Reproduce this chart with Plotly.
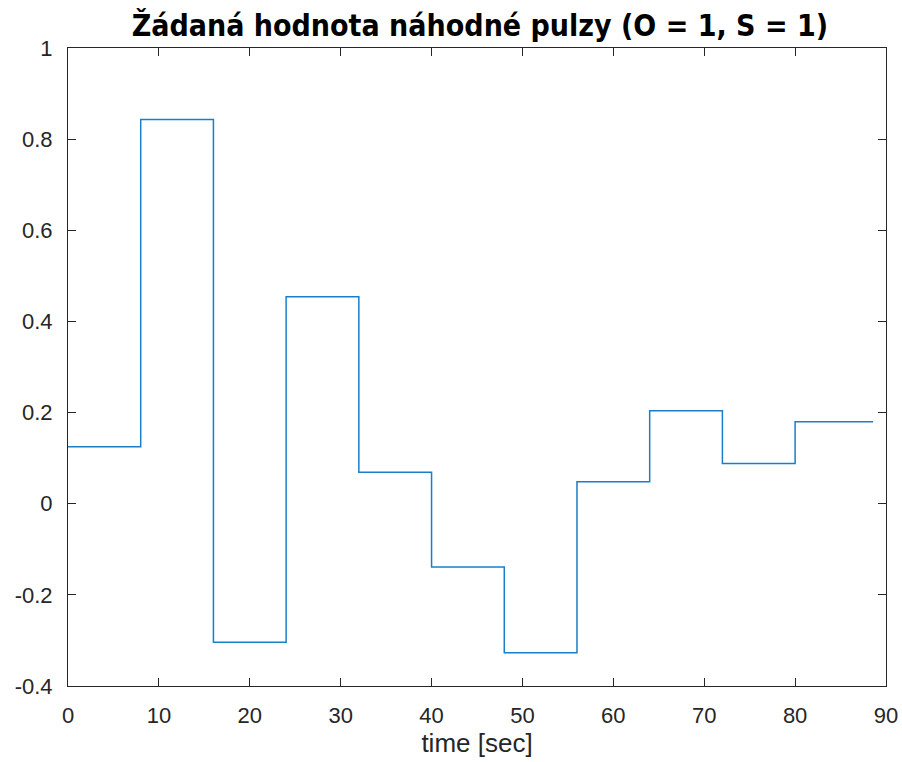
import plotly.graph_objects as go

# step start times and values
times = [0, 8, 16, 24, 32, 40, 48, 56, 64, 72, 80, 88.5]
values = [0.125, 0.843, -0.304, 0.454, 0.069, -0.139, -0.327, 0.048, 0.204, 0.088, 0.180, 0.178]

x_ticks = [0, 10, 20, 30, 40, 50, 60, 70, 80, 90]
y_ticks = [-0.4, -0.2, 0, 0.2, 0.4, 0.6, 0.8, 1]
y_tick_labels = ["-0.4", "-0.2", "0", "0.2", "0.4", "0.6", "0.8", "1"]

fig = go.Figure()
fig.add_trace(go.Scatter(
    x=times, y=values, mode="lines", line=dict(shape="hv", color="#1a7fc9", width=1.5),
    showlegend=False, hoverinfo="x+y"))

axis_common = dict(
    showgrid=False, zeroline=False, showline=True, linecolor="#262626", linewidth=1,
    mirror="ticks", ticks="inside", ticklen=8, tickcolor="#262626", tickwidth=1,
    automargin=False,
    tickfont=dict(family="Liberation Sans, Arial, sans-serif", size=22, color="#262626"),
)

fig.update_layout(
    width=902, height=762,
    margin=dict(l=68, r=16, t=48, b=76),
    paper_bgcolor="white", plot_bgcolor="white",
    title=dict(text="<b>Žádaná hodnota náhodné pulzy (O = 1, S = 1)</b>",
               x=0.532, xanchor="center", y=0.966, yanchor="middle",
               font=dict(family="DejaVu Sans Condensed, DejaVu Sans, sans-serif", size=30, color="black")),
    xaxis=dict(range=[0, 90], tickvals=x_ticks, ticklabelstandoff=10,
               title=dict(text="time [sec]", standoff=6,
                          font=dict(family="Liberation Sans, Arial, sans-serif", size=26, color="#262626")),
               **axis_common),
    yaxis=dict(range=[-0.4, 1], tickvals=y_ticks, ticktext=y_tick_labels,
               ticklabelstandoff=10, **axis_common),
)

fig.write_html(
    "out.html",
    config={"displayModeBar": False},
    post_script="document.body.style.margin='0';document.body.style.overflow='hidden';",
)
